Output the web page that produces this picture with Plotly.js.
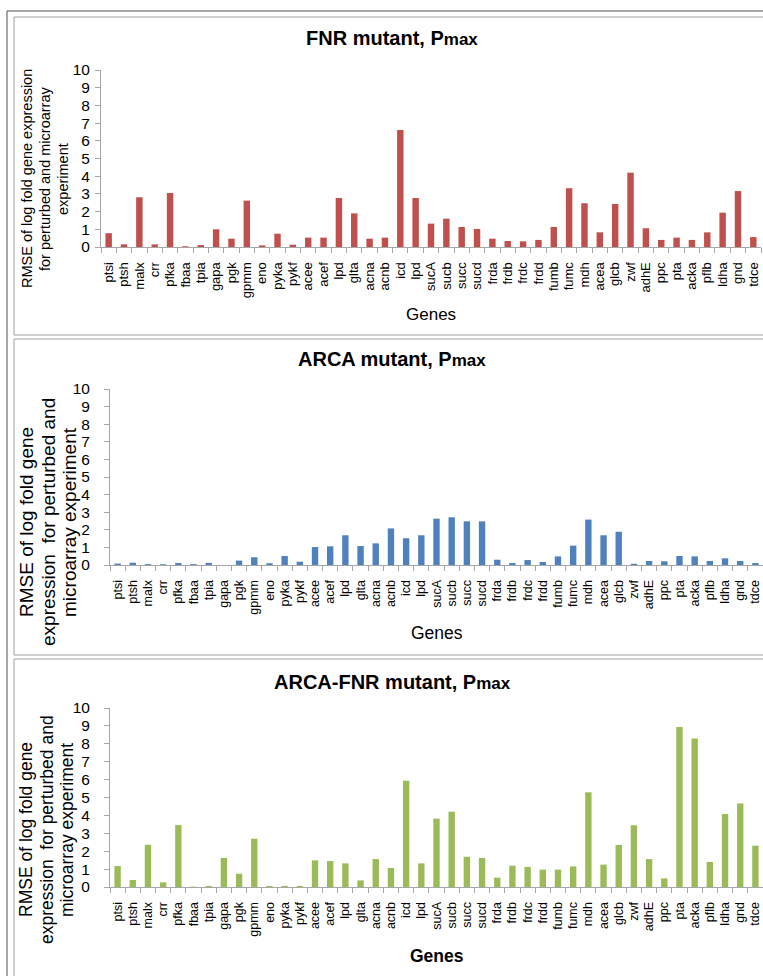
<!DOCTYPE html>
<html>
<head>
<meta charset="utf-8">
<script src="https://cdn.plot.ly/plotly-3.0.1.min.js"></script>
<style>
html,body{margin:0;padding:0;background:#fff;}
#chart{width:763px;height:976px;}
</style>
</head>
<body>
<div id="chart"></div>
<script>
const genes = ["ptsi","ptsh","malx","crr","pfka","fbaa","tpia","gapa","pgk","gpmm","eno","pyka","pykf","acee","acef","lpd","glta","acna","acnb","icd","lpd","sucA","sucb","succ","sucd","frda","frdb","frdc","frdd","fumb","fumc","mdh","acea","glcb","zwf","adhE","ppc","pta","acka","pflb","ldha","gnd","tdce"];

const fnrMutant = [0.78,0.15,2.81,0.15,3.05,0.04,0.11,1.00,0.47,2.62,0.09,0.75,0.13,0.53,0.53,2.77,1.90,0.47,0.53,6.61,2.77,1.32,1.60,1.13,1.02,0.47,0.34,0.32,0.40,1.13,3.32,2.47,0.83,2.43,4.20,1.06,0.40,0.53,0.40,0.83,1.94,3.16,0.56];

const arcaMutant = [0.08,0.13,0.05,0.04,0.11,0.05,0.12,0.00,0.25,0.44,0.10,0.51,0.19,1.02,1.06,1.69,1.08,1.23,2.08,1.52,1.69,2.63,2.71,2.48,2.48,0.30,0.11,0.28,0.17,0.49,1.10,2.58,1.69,1.89,0.07,0.23,0.21,0.51,0.49,0.23,0.38,0.23,0.11];

const arcaFnrMutant = [1.17,0.39,2.36,0.26,3.46,0.02,0.06,1.62,0.74,2.70,0.06,0.06,0.06,1.49,1.45,1.32,0.37,1.56,1.06,5.94,1.32,3.82,4.21,1.69,1.62,0.52,1.19,1.12,0.97,0.97,1.15,5.29,1.25,2.35,3.45,1.56,0.48,8.94,8.29,1.40,4.08,4.67,2.31];

const panelTitles = ["FNR mutant, P", "ARCA mutant, P", "ARCA-FNR mutant, P"];
const colors = ["#C0504D", "#4F81BD", "#9BBB59"];

const W = 763, H = 976;
const px = v => v / W;
const py = v => 1 - v / H;
const FONT = "Liberation Sans, Arial, sans-serif";
const AX = "#A6A6A6";

const idx = genes.map((g, i) => i);
const bounds = genes.map((g, i) => i - 0.5).concat([genes.length - 0.5]);

// panel geometry (pixels)
const panels = [
  {x0: 101, x1: 761, top: 70, bottom: 247, tickSize: 15.5, xfont: 13, ystand: 2},
  {x0: 110, x1: 763, top: 389, bottom: 565, tickSize: 15.5, xfont: 12.5, ystand: 11},
  {x0: 110, x1: 763, top: 708, bottom: 887, tickSize: 15.5, xfont: 12.5, ystand: 11}
];
const series = [fnrMutant, arcaMutant, arcaFnrMutant];

const data = series.map((vals, k) => ({
  type: "bar",
  x: idx,
  y: vals,
  xaxis: k === 0 ? "x" : "x" + (k + 1),
  yaxis: k === 0 ? "y" : "y" + (k + 1),
  width: 0.42,
  marker: {color: colors[k], line: {width: 0}},
  hoverinfo: "skip"
}));

const layout = {
  width: W, height: H,
  margin: {l: 0, r: 0, t: 0, b: 0},
  paper_bgcolor: "#fff",
  plot_bgcolor: "rgba(0,0,0,0)",
  showlegend: false,
  font: {family: FONT, color: "#000"},
  annotations: [],
  shapes: []
};

panels.forEach((p, k) => {
  const xa = k === 0 ? "xaxis" : "xaxis" + (k + 1);
  const ya = k === 0 ? "yaxis" : "yaxis" + (k + 1);
  layout[xa] = {
    domain: [px(p.x0), px(p.x1)],
    anchor: k === 0 ? "y" : "y" + (k + 1),
    range: [-0.5, genes.length - 0.5],
    tickmode: "array",
    tickvals: idx,
    ticktext: genes,
    tickangle: -90,
    ticks: "",
    ticklen: 0,
    ticklabelstandoff: 9,
    tickfont: {size: p.xfont, family: FONT, color: "#000"},
    minor: {tickmode: "array", tickvals: bounds, ticks: "outside", ticklen: 5, tickcolor: AX, tickwidth: 1, showgrid: false},
    showline: true, linecolor: AX, linewidth: 1,
    showgrid: false, zeroline: false, fixedrange: true
  };
  layout[ya] = {
    domain: [py(p.bottom), py(p.top)],
    anchor: k === 0 ? "x" : "x" + (k + 1),
    range: [0, 10],
    tickmode: "linear", tick0: 0, dtick: 1,
    ticks: "outside", ticklen: 5, tickcolor: AX,
    ticklabelstandoff: p.ystand,
    tickfont: {size: p.tickSize, family: FONT, color: "#000"},
    showline: true, linecolor: AX, linewidth: 1,
    showgrid: false, zeroline: false, fixedrange: true
  };
});

// frames
layout.shapes.push({type: "rect", xref: "paper", yref: "paper", x0: px(7), x1: px(790), y0: py(11), y1: py(1000), line: {color: "#505050", width: 1}});
[[17, 335], [339, 655], [659, 1000]].forEach(([t, b]) => {
  layout.shapes.push({type: "rect", xref: "paper", yref: "paper", x0: px(14), x1: px(790), y0: py(t), y1: py(b), line: {color: "#A0A0A0", width: 1}});
});

// panel titles
const titleY = [38, 359, 682];
panelTitles.forEach((t, k) => {
  layout.annotations.push({
    xref: "paper", yref: "paper", x: px(392), y: py(titleY[k]),
    xanchor: "center", yanchor: "middle", showarrow: false,
    text: "<b>" + t + '<span style="font-size:17px">max</span></b>',
    font: {size: 20, family: FONT, color: "#000"}
  });
});

// x axis titles
const genesTitle = [
  {x: 431, y: 314, size: 17, bold: false},
  {x: 437, y: 633, size: 17.5, bold: false},
  {x: 437, y: 956, size: 17.5, bold: true}
];
genesTitle.forEach(g => {
  layout.annotations.push({
    xref: "paper", yref: "paper", x: px(g.x), y: py(g.y),
    xanchor: "center", yanchor: "middle", showarrow: false,
    text: g.bold ? "<b>Genes</b>" : "Genes",
    font: {size: g.size, family: FONT, color: "#000"}
  });
});

// y axis titles (one annotation per line)
const yTitles = [
  {lines: ["RMSE of log fold gene expression", "for perturbed and microarray", "experiment"], xs: [27, 45, 63], y: 179, size: 14.5},
  {lines: ["RMSE of log fold gene", "expression  for perturbed and", "microarray experiment"], xs: [26, 48, 69], y: 522, size: 19},
  {lines: ["RMSE of log fold gene", "expression  for perturbed and", "microarray experiment"], xs: [26, 47, 67], y: 830, size: 17.5}
];
yTitles.forEach(t => {
  t.lines.forEach((line, i) => {
    layout.annotations.push({
      xref: "paper", yref: "paper", x: px(t.xs[i]), y: py(t.y),
      xanchor: "center", yanchor: "middle", showarrow: false,
      textangle: -90,
      text: line.replace(/  /g, " &nbsp;"),
      font: {size: t.size, family: FONT, color: "#000"}
    });
  });
});

Plotly.newPlot("chart", data, layout, {staticPlot: true, displayModeBar: false});
</script>
</body>
</html>
